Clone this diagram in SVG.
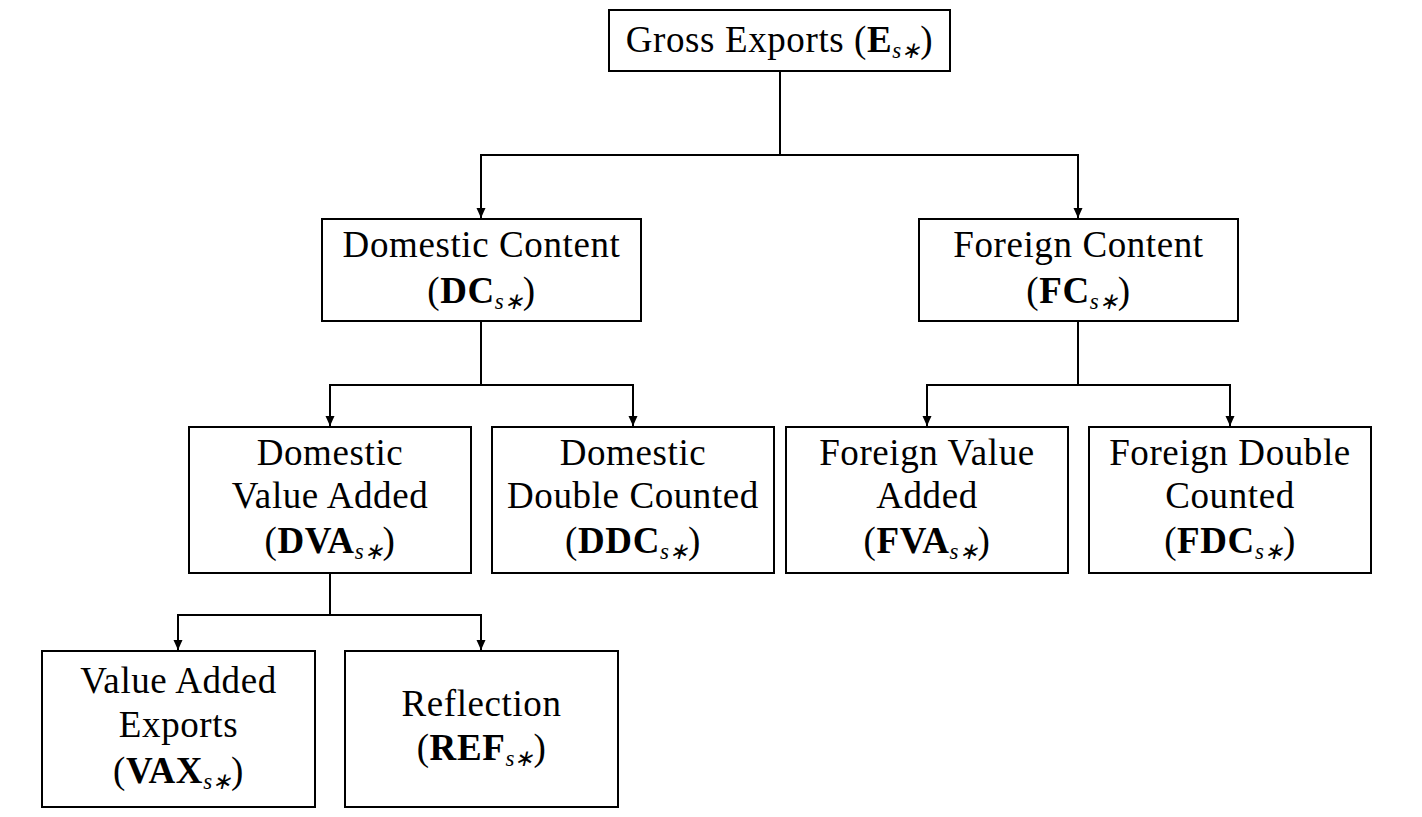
<svg xmlns="http://www.w3.org/2000/svg" width="1422" height="817" viewBox="0 0 1422 817">
<style>
.box{fill:#fff;stroke:#000;stroke-width:2}
.t{font-family:"Liberation Serif","Times New Roman",serif;font-size:37px;letter-spacing:0.6px;fill:#000;text-anchor:middle}
.b{font-weight:bold}
.s{font-style:italic;font-size:23px;letter-spacing:0}
.c{fill:none;stroke:#000;stroke-width:2}
</style>
<defs>
<marker id="ah" markerUnits="userSpaceOnUse" markerWidth="10" markerHeight="10" viewBox="0 0 10 10" refX="10" refY="5" orient="auto">
<path d="M0,0.5 L10,5 L0,9.5 z" fill="#000"/>
</marker>
</defs>
<rect width="1422" height="817" fill="#fff"/>
<g id="connectors">
<path class="c" d="M780,71 V155 H481 V218" marker-end="url(#ah)"/>
<path class="c" d="M780,155 H1078 V218" marker-end="url(#ah)"/>
<path class="c" d="M481,321 V385 H330 V426" marker-end="url(#ah)"/>
<path class="c" d="M481,385 H633 V426" marker-end="url(#ah)"/>
<path class="c" d="M1078,321 V385 H927 V426" marker-end="url(#ah)"/>
<path class="c" d="M1078,385 H1230 V426" marker-end="url(#ah)"/>
<path class="c" d="M330,573 V615 H178 V650" marker-end="url(#ah)"/>
<path class="c" d="M330,615 H481 V650" marker-end="url(#ah)"/>
</g>
<g id="gross-exports">
<rect class="box" x="609" y="10" width="341" height="61"/>
<text class="t" x="779.5" y="52">Gross Exports (<tspan class="b">E</tspan><tspan class="s" dy="6">s∗</tspan><tspan dy="-6">)</tspan></text>
</g>
<g id="domestic-content">
<rect class="box" x="322" y="219" width="319" height="102"/>
<text class="t" x="481.5" y="257">Domestic Content</text>
<text class="t" x="481.5" y="303">(<tspan class="b">DC</tspan><tspan class="s" dy="6">s∗</tspan><tspan dy="-6">)</tspan></text>
</g>
<g id="foreign-content">
<rect class="box" x="919" y="219" width="319" height="102"/>
<text class="t" x="1078.5" y="257">Foreign Content</text>
<text class="t" x="1078.5" y="303">(<tspan class="b">FC</tspan><tspan class="s" dy="6">s∗</tspan><tspan dy="-6">)</tspan></text>
</g>
<g id="dva">
<rect class="box" x="189" y="427" width="282" height="146"/>
<text class="t" x="330" y="465">Domestic</text>
<text class="t" x="330" y="508">Value Added</text>
<text class="t" x="330" y="553">(<tspan class="b">DVA</tspan><tspan class="s" dy="6">s∗</tspan><tspan dy="-6">)</tspan></text>
</g>
<g id="ddc">
<rect class="box" x="492" y="427" width="282" height="146"/>
<text class="t" x="633" y="465">Domestic</text>
<text class="t" x="633" y="508">Double Counted</text>
<text class="t" x="633" y="553">(<tspan class="b">DDC</tspan><tspan class="s" dy="6">s∗</tspan><tspan dy="-6">)</tspan></text>
</g>
<g id="fva">
<rect class="box" x="786" y="427" width="282" height="146"/>
<text class="t" x="927" y="465">Foreign Value</text>
<text class="t" x="927" y="508">Added</text>
<text class="t" x="927" y="553">(<tspan class="b">FVA</tspan><tspan class="s" dy="6">s∗</tspan><tspan dy="-6">)</tspan></text>
</g>
<g id="fdc">
<rect class="box" x="1089" y="427" width="282" height="146"/>
<text class="t" x="1230" y="465">Foreign Double</text>
<text class="t" x="1230" y="508">Counted</text>
<text class="t" x="1230" y="553">(<tspan class="b">FDC</tspan><tspan class="s" dy="6">s∗</tspan><tspan dy="-6">)</tspan></text>
</g>
<g id="vax">
<rect class="box" x="42" y="651" width="273" height="156"/>
<text class="t" x="178.5" y="693">Value Added</text>
<text class="t" x="178.5" y="737">Exports</text>
<text class="t" x="178.5" y="783">(<tspan class="b">VAX</tspan><tspan class="s" dy="6">s∗</tspan><tspan dy="-6">)</tspan></text>
</g>
<g id="ref">
<rect class="box" x="345" y="651" width="273" height="156"/>
<text class="t" x="481.5" y="716">Reflection</text>
<text class="t" x="481.5" y="760">(<tspan class="b">REF</tspan><tspan class="s" dy="6">s∗</tspan><tspan dy="-6">)</tspan></text>
</g>
</svg>
